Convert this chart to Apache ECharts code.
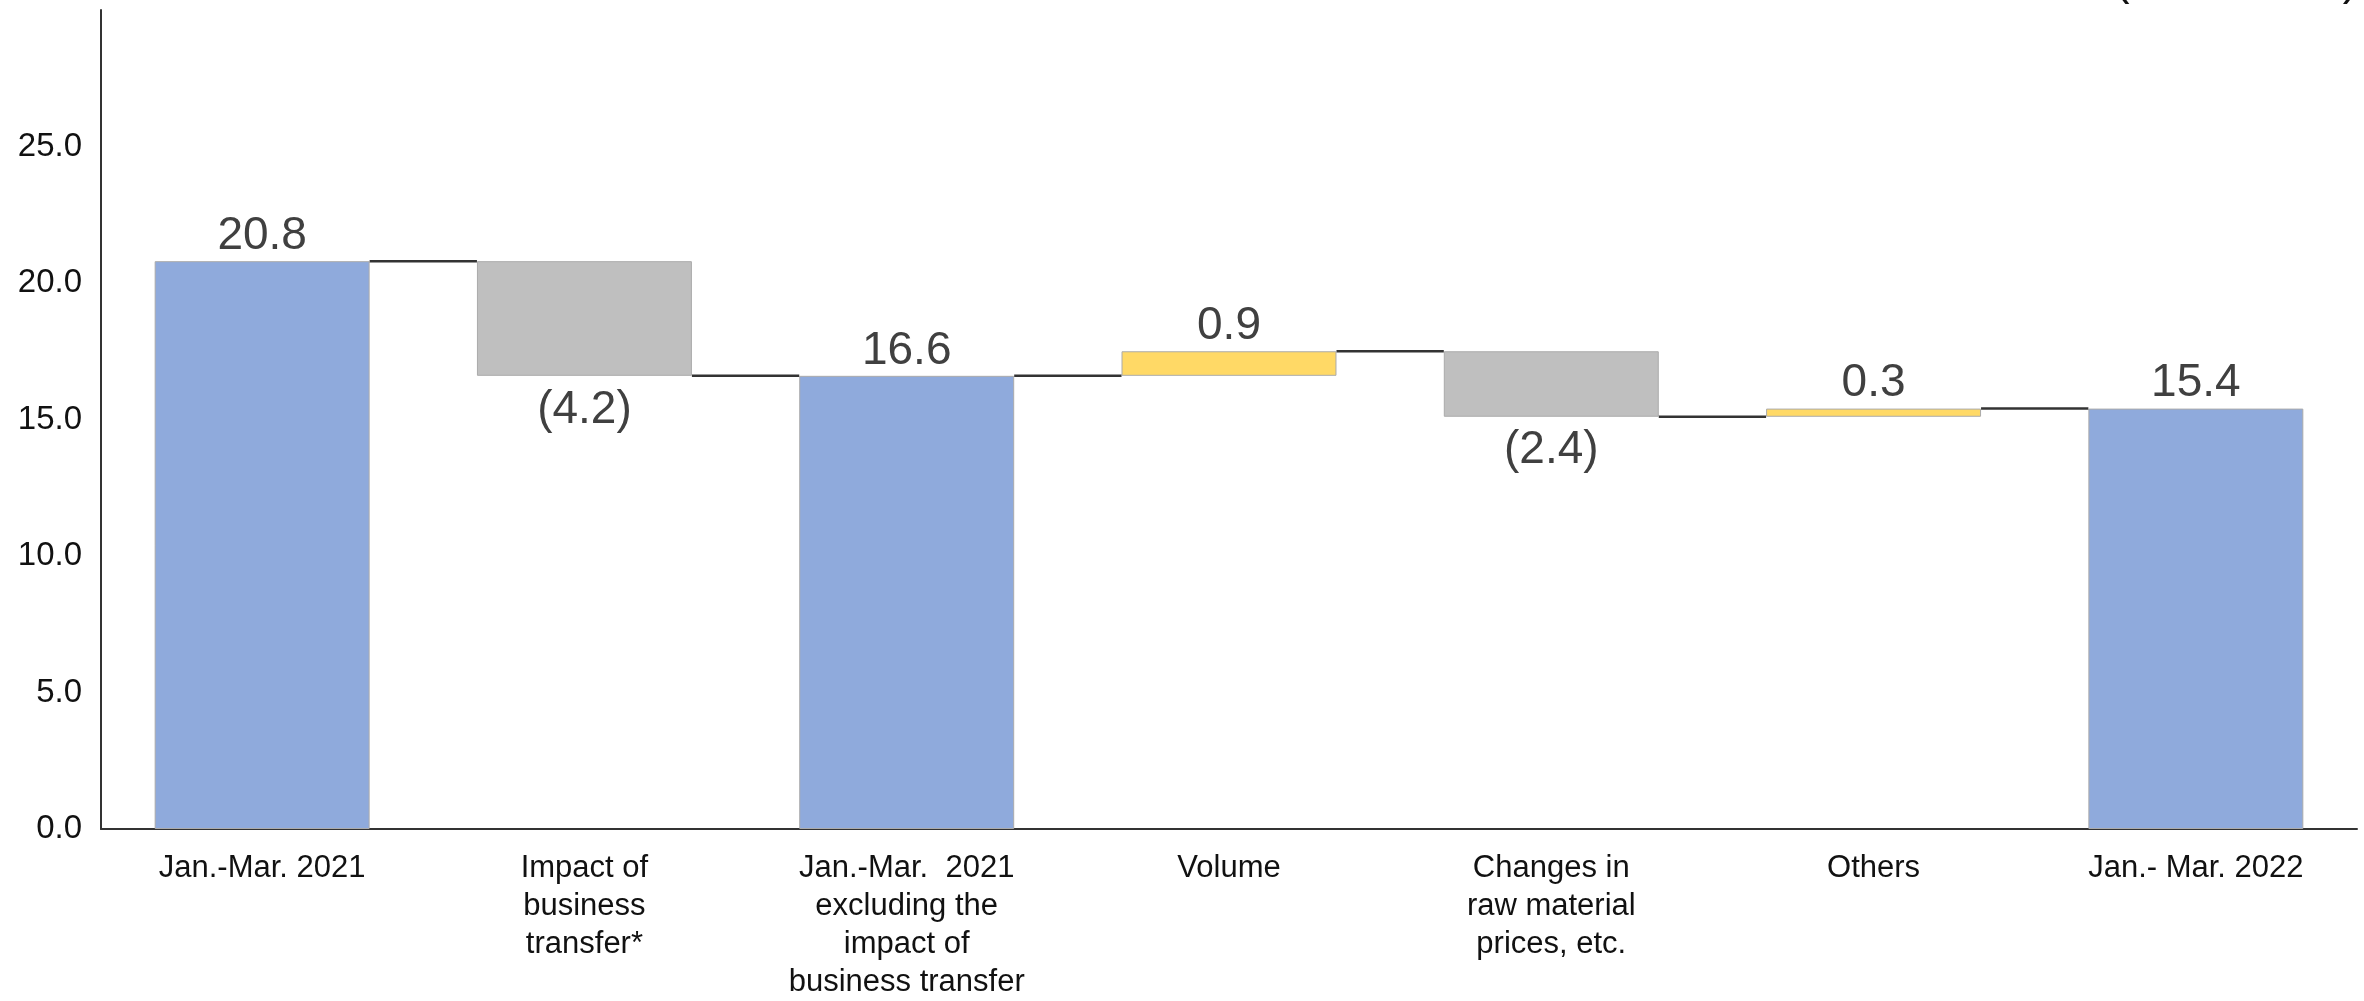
<!DOCTYPE html>
<html>
<head>
<meta charset="utf-8">
<script src="https://cdn.jsdelivr.net/npm/echarts@6/dist/echarts.min.js"></script>
<style>
html,body{margin:0;padding:0;background:#fff;}
#chart{width:2364px;height:1001px;}
</style>
</head>
<body>
<div id="chart"></div>
<script>
const categories = [
  'Jan.-Mar. 2021',
  'Impact of\nbusiness\ntransfer*',
  'Jan.-Mar.  2021\nexcluding the\nimpact of\nbusiness transfer',
  'Volume',
  'Changes in\nraw material\nprices, etc.',
  'Others',
  'Jan.- Mar. 2022'
];
const values = [20.8, -4.2, 16.6, 0.9, -2.4, 0.3, 15.4];
const isTotal = [true, false, true, false, false, false, true];
const yMin = 0;
const yMax = 30;
const yInterval = 5;
const unitText = '(Billion Yen)';

const COLOR_TOTAL = '#8FAADC';
const COLOR_UP = '#FFD966';
const COLOR_DOWN = '#BFBFBF';
const BAR_RATIO = 0.667;

const r1 = x => Math.round(x * 10) / 10;
const bases = [], heights = [], ends = [];
let running = 0;
values.forEach((v, i) => {
  if (isTotal[i]) {
    bases.push(0); heights.push(v); running = v;
  } else if (v >= 0) {
    bases.push(r1(running)); heights.push(v); running = r1(running + v);
  } else {
    bases.push(r1(running + v)); heights.push(-v); running = r1(running + v);
  }
  ends.push(running);
});

const deltaData = values.map((v, i) => ({
  value: heights[i],
  itemStyle: { color: isTotal[i] ? COLOR_TOTAL : (v >= 0 ? COLOR_UP : COLOR_DOWN) },
  label: v < 0 ? { position: 'bottom', distance: 11 } : { position: 'top', distance: 2 }
}));

const connectorData = [];
for (let i = 0; i < values.length - 1; i++) connectorData.push([i, ends[i]]);

const chart = echarts.init(document.getElementById('chart'));
chart.setOption({
  animation: false,
  backgroundColor: '#ffffff',
  grid: { left: 101, right: 7, top: 10, bottom: 163, containLabel: false },
  xAxis: {
    type: 'category',
    data: categories,
    axisLine: { show: true, lineStyle: { color: '#333333', width: 2 } },
    axisTick: { show: false },
    axisLabel: {
      interval: 0,
      margin: 20,
      fontFamily: 'Liberation Sans, Arial, sans-serif',
      fontSize: 31,
      lineHeight: 38,
      color: '#111111',
      align: 'center'
    },
    splitLine: { show: false }
  },
  yAxis: {
    type: 'value',
    min: yMin,
    max: yMax,
    interval: yInterval,
    axisLine: { show: true, lineStyle: { color: '#333333', width: 2 } },
    axisTick: { show: false },
    splitLine: { show: false },
    axisLabel: {
      margin: 19,
      fontFamily: 'Liberation Sans, Arial, sans-serif',
      fontSize: 33,
      color: '#111111',
      formatter: v => (v >= yMax ? '' : v.toFixed(1))
    }
  },
  graphic: [{
    type: 'text',
    right: 6,
    top: -42,
    style: {
      text: unitText,
      fontFamily: 'Liberation Sans, Arial, sans-serif',
      fontSize: 46,
      fill: '#111111'
    }
  }],
  series: [
    {
      type: 'bar',
      stack: 'wf',
      data: bases,
      barWidth: (BAR_RATIO * 100) + '%',
      itemStyle: { color: 'transparent', borderWidth: 0 },
      emphasis: { disabled: true },
      silent: true
    },
    {
      type: 'bar',
      stack: 'wf',
      data: deltaData,
      barWidth: (BAR_RATIO * 100) + '%',
      itemStyle: { borderColor: '#ABABAB', borderWidth: 1 },
      label: {
        show: true,
        fontFamily: 'Liberation Sans, Arial, sans-serif',
        fontSize: 46,
        color: '#404040',
        formatter: p => {
          const v = values[p.dataIndex];
          return v < 0 ? '(' + Math.abs(v).toFixed(1) + ')' : v.toFixed(1);
        }
      }
    },
    {
      type: 'custom',
      data: connectorData,
      silent: true,
      z: 5,
      renderItem: (params, api) => {
        const idx = api.value(0);
        const level = api.value(1);
        const p = api.coord([idx, level]);
        const band = api.size([1, 0])[0];
        const half = band * BAR_RATIO / 2;
        return {
          type: 'line',
          shape: { x1: p[0] + half, y1: p[1], x2: p[0] + band - half, y2: p[1] },
          style: { stroke: '#333333', lineWidth: 2.5 }
        };
      }
    }
  ]
});
</script>
</body>
</html>
